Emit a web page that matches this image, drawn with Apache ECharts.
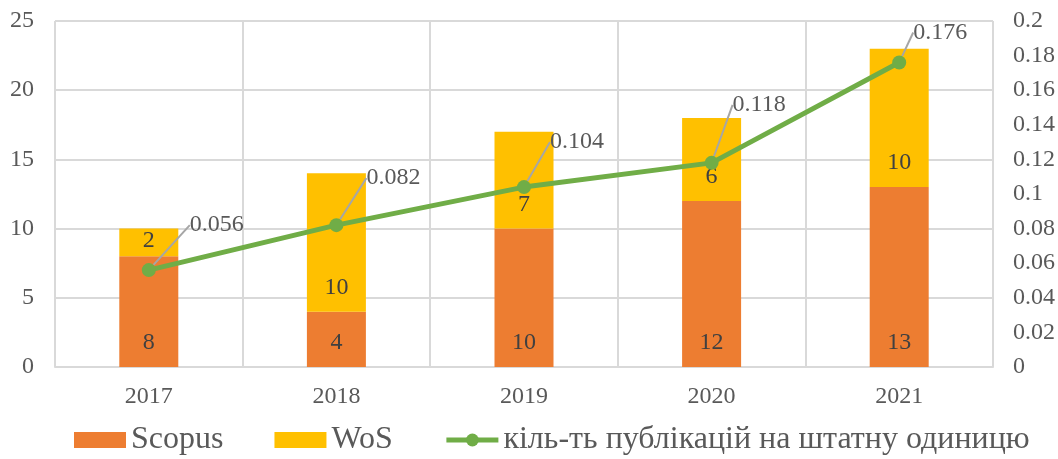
<!DOCTYPE html>
<html><head><meta charset="utf-8">
<script src="https://cdn.jsdelivr.net/npm/echarts@6/dist/echarts.min.js"></script>
<style>html,body{margin:0;padding:0;background:#fff}#c{width:1058px;height:459px}</style>
</head><body><div id="c"></div>
<script>
const categories = ['2017','2018','2019','2020','2021'];
const scopus = [8, 4, 10, 12, 13];
const wos = [2, 10, 7, 6, 10];
const perUnit = [0.056, 0.082, 0.104, 0.118, 0.176];
const leftTicks = [0, 5, 10, 15, 20, 25];
const rightTicks = [0, 0.02, 0.04, 0.06, 0.08, 0.1, 0.12, 0.14, 0.16, 0.18, 0.2];

const font = 'Liberation Serif';
const grey = '#595959';
const chart = echarts.init(document.getElementById('c'));
const labelOffsets = [[34, -45], [23, -47], [19, -45], [14, -58], [7, -30]];
const barLabel = {show: true, position: 'insideBottom', distance: 12, fontFamily: font, fontSize: 24, color: '#404040'};
chart.setOption({
  animation: false,
  textStyle: {fontFamily: font},
  grid: {left: 55, right: 64, top: 21, bottom: 92, containLabel: false},
  legend: {
    bottom: -2, left: 69, itemGap: 51,
    itemWidth: 52, itemHeight: 16,
    textStyle: {fontFamily: font, fontSize: 32, color: grey},
    lineStyle: {width: 5},
    data: [
      {name: 'Scopus', icon: 'rect'},
      {name: 'WoS', icon: 'rect'},
      {name: 'кіль-ть публікацій на штатну одиницю'}
    ]
  },
  xAxis: {
    type: 'category', data: categories,
    axisLine: {lineStyle: {color: '#d9d9d9', width: 2}},
    axisTick: {show: false},
    axisLabel: {fontFamily: font, fontSize: 24, color: grey, margin: 18},
    splitLine: {show: true, interval: 0, lineStyle: {color: '#d9d9d9', width: 2}}
  },
  yAxis: [
    {type: 'value', min: 0, max: 25, interval: 5,
     axisLine: {show: false}, axisTick: {show: false},
     axisLabel: {fontFamily: font, fontSize: 24, color: grey, margin: 21, align: 'right'},
     splitLine: {lineStyle: {color: '#d9d9d9', width: 2}}},
    {type: 'value', min: 0, max: 0.2, interval: 0.02,
     axisLine: {show: false}, axisTick: {show: false},
     axisLabel: {fontFamily: font, fontSize: 24, color: grey, margin: 20,
       formatter: v => String(+v.toFixed(2))},
     splitLine: {show: false}}
  ],
  series: [
    {name: 'Scopus', type: 'bar', stack: 'a', data: scopus, barWidth: 59,
     itemStyle: {color: '#ed7d31'},
     label: barLabel},
    {name: 'WoS', type: 'bar', stack: 'a', barWidth: 59,
     data: wos.map((v, i) => i === 0 ? {value: v, label: {position: 'inside', offset: [0, -2]}} : v),
     itemStyle: {color: '#ffc000'},
     label: barLabel},
    {name: 'кіль-ть публікацій на штатну одиницю', type: 'line', yAxisIndex: 1, data: perUnit,
     symbol: 'circle', symbolSize: 14,
     lineStyle: {color: '#70ad47', width: 5},
     itemStyle: {color: '#70ad47'},
     label: {show: true, position: 'right', distance: 0, fontFamily: font, fontSize: 24, color: grey},
     labelLine: {show: true, lineStyle: {color: '#a6a6a6', width: 2}},
     labelLayout: p => ({dx: labelOffsets[p.dataIndex][0], dy: labelOffsets[p.dataIndex][1]})
    }
  ]
});
</script></body></html>
